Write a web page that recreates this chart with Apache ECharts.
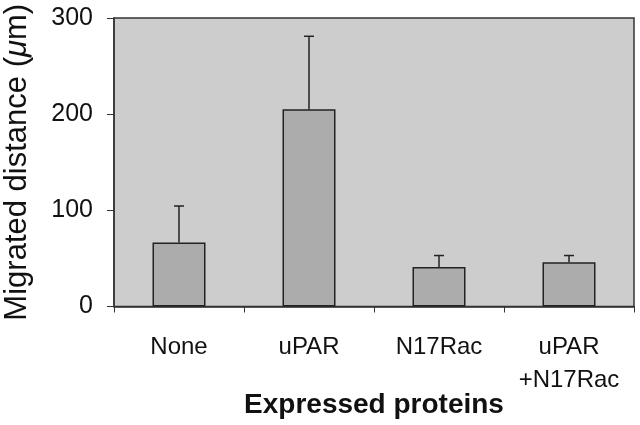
<!DOCTYPE html>
<html>
<head>
<meta charset="utf-8">
<script src="https://cdn.jsdelivr.net/npm/echarts@6/dist/echarts.min.js"></script>
<style>html,body{margin:0;padding:0;background:#fff}#c{width:640px;height:425px}</style>
</head>
<body>
<div id="c"></div>
<script>
const categories = ['None', 'uPAR', 'N17Rac', 'uPAR\n+N17Rac'];
const means = [66.5, 205, 41, 46];
const errors = [38, 76, 12, 7];
const yMin = 0, yMax = 300, yStep = 100;

const chart = echarts.init(document.getElementById('c'), null, {renderer: 'canvas'});
const font = '"Liberation Sans", Arial, Helvetica, sans-serif';
const errData = categories.map((c, i) => [i, means[i], means[i] + errors[i]]);

chart.setOption({
  animation: false,
  backgroundColor: '#ffffff',
  grid: {
    left: 114, top: 18, width: 520, height: 288.5,
    containLabel: false, outerBoundsMode: 'none',
    show: true, backgroundColor: '#cdcdcd', borderColor: '#333', borderWidth: 1.5
  },
  xAxis: {
    type: 'category',
    data: categories,
    axisLine: {lineStyle: {color: '#333', width: 1.5}},
    axisTick: {show: true, length: 6, lineStyle: {color: '#333'}},
    axisLabel: {interval: 0, hideOverlap: false, fontFamily: font, fontSize: 24, color: '#111', margin: 24, lineHeight: 33, align: 'center'},
    name: 'Expressed proteins',
    nameLocation: 'middle',
    nameGap: 85,
    nameMoveOverlap: false,
    nameTextStyle: {fontFamily: font, fontSize: 28, fontWeight: 'bold', color: '#111'}
  },
  yAxis: {
    type: 'value',
    min: yMin, max: yMax, interval: yStep,
    splitLine: {show: false},
    axisLine: {show: true, lineStyle: {color: '#333', width: 1.5}},
    axisTick: {show: true, length: 7, lineStyle: {color: '#333'}},
    axisLabel: {fontFamily: font, fontSize: 25, color: '#111', margin: 21},
    name: '{a|Migrated distance (}{b|μ}{a|m)}',
    nameLocation: 'middle',
    nameRotate: 90,
    nameGap: 81,
    nameMoveOverlap: false,
    nameTextStyle: {
      rich: {
        a: {fontFamily: font, fontSize: 31, color: '#111'},
        b: {fontFamily: font, fontSize: 31, color: '#111', fontStyle: 'italic'}
      }
    }
  },
  series: [
    {
      type: 'bar',
      data: means,
      barWidth: 53,
      itemStyle: {color: '#acacac', borderColor: '#222', borderWidth: 1.5},
      z: 2
    },
    {
      type: 'custom',
      data: errData,
      encode: {x: 0, y: [1, 2]},
      z: 3,
      renderItem: function (params, api) {
        const base = api.coord([api.value(0), api.value(1)]);
        const top = api.coord([api.value(0), api.value(2)]);
        const st = {stroke: '#222', lineWidth: 1.5};
        return {
          type: 'group',
          children: [
            {type: 'line', shape: {x1: base[0], y1: base[1], x2: top[0], y2: top[1]}, style: st},
            {type: 'line', shape: {x1: top[0] - 5, y1: top[1], x2: top[0] + 5, y2: top[1]}, style: st}
          ]
        };
      }
    }
  ]
});
</script>
</body>
</html>
